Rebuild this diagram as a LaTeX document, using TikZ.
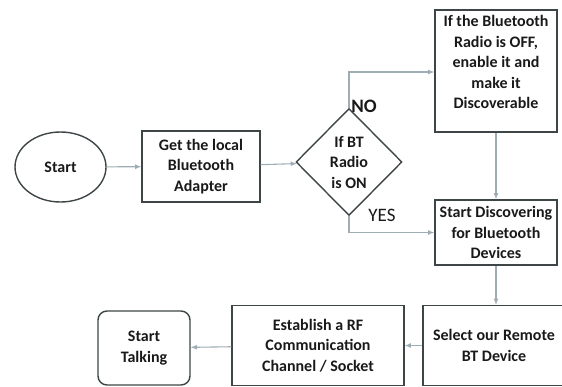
\documentclass[tikz,border=0pt]{standalone}
\usepackage{fontspec}
\setmainfont{Carlito}
\usetikzlibrary{shapes.geometric}
\definecolor{boxgray}{rgb}{0.24, 0.27, 0.28}
\definecolor{linkgray}{rgb}{0.62, 0.68, 0.71}
\definecolor{textdark}{rgb}{0.10, 0.10, 0.10}

\tikzset{
  box/.style = {draw=boxgray, line width=1.4pt, align=center, inner sep=0pt,
                text=textdark, font=\fontsize{16}{20.5}\selectfont\bfseries},
  link/.style = {draw=linkgray, line width=1.1pt, ->, >=latex},
  tag/.style = {text=textdark, inner sep=0pt, font=\fontsize{19}{22}\selectfont}
}

\begin{document}
\begin{tikzpicture}[x=1pt, y=-1pt]
        \useasboundingbox (0, 0) rectangle (562, 386);
        \node[box, ellipse, minimum width=91pt, minimum height=70pt] (start) at (60.5, 167) {Start};
        \node[box, minimum width=118pt, minimum height=71pt] (adapter) at (201, 166.5) {Get the local\\Bluetooth\\Adapter};
        \node[box, diamond, minimum width=106pt, minimum height=107pt] (radio) at (349, 162) {If BT\\Radio\\is ON};
        \node[box, text depth=18pt, minimum width=122pt, minimum height=122pt] (enable) at (496, 71) {If the Bluetooth\\Radio is OFF,\\enable it and\\make it\\Discoverable};
        \node[box, minimum width=122pt, minimum height=65pt] (discover) at (496, 232.5) {Start Discovering\\for Bluetooth\\Devices};
        \node[box, minimum width=142pt, minimum height=80pt] (select) at (494, 345.5) {Select our Remote\\BT Device};
        \node[box, minimum width=172pt, minimum height=80pt] (socket) at (318, 345.5) {Establish a RF\\Communication\\Channel / Socket};
        \node[box, rounded corners=9pt, minimum width=92pt, minimum height=74pt] (talk) at (144, 348) {Start\\Talking};
        \node[tag, font=\fontsize{19}{22}\selectfont\bfseries] (no) at (364, 106.5) {NO};
        \node[tag] (yes) at (382, 215) {YES};
        \draw[link] (start) -- (adapter);
        \draw[link] (adapter) -- (radio);
        \draw[link] (radio.north) |- ([yshift=-1pt]enable.west);
        \draw[link] (radio.south) |- (discover.west);
        \draw[link] (enable) -- (discover);
        \draw[link] (discover.south) -- (discover.south |- select.north);
        \draw[link] (select) -- (socket);
        \draw[link] (socket) -- (talk);
     \end{tikzpicture}
\end{document}
